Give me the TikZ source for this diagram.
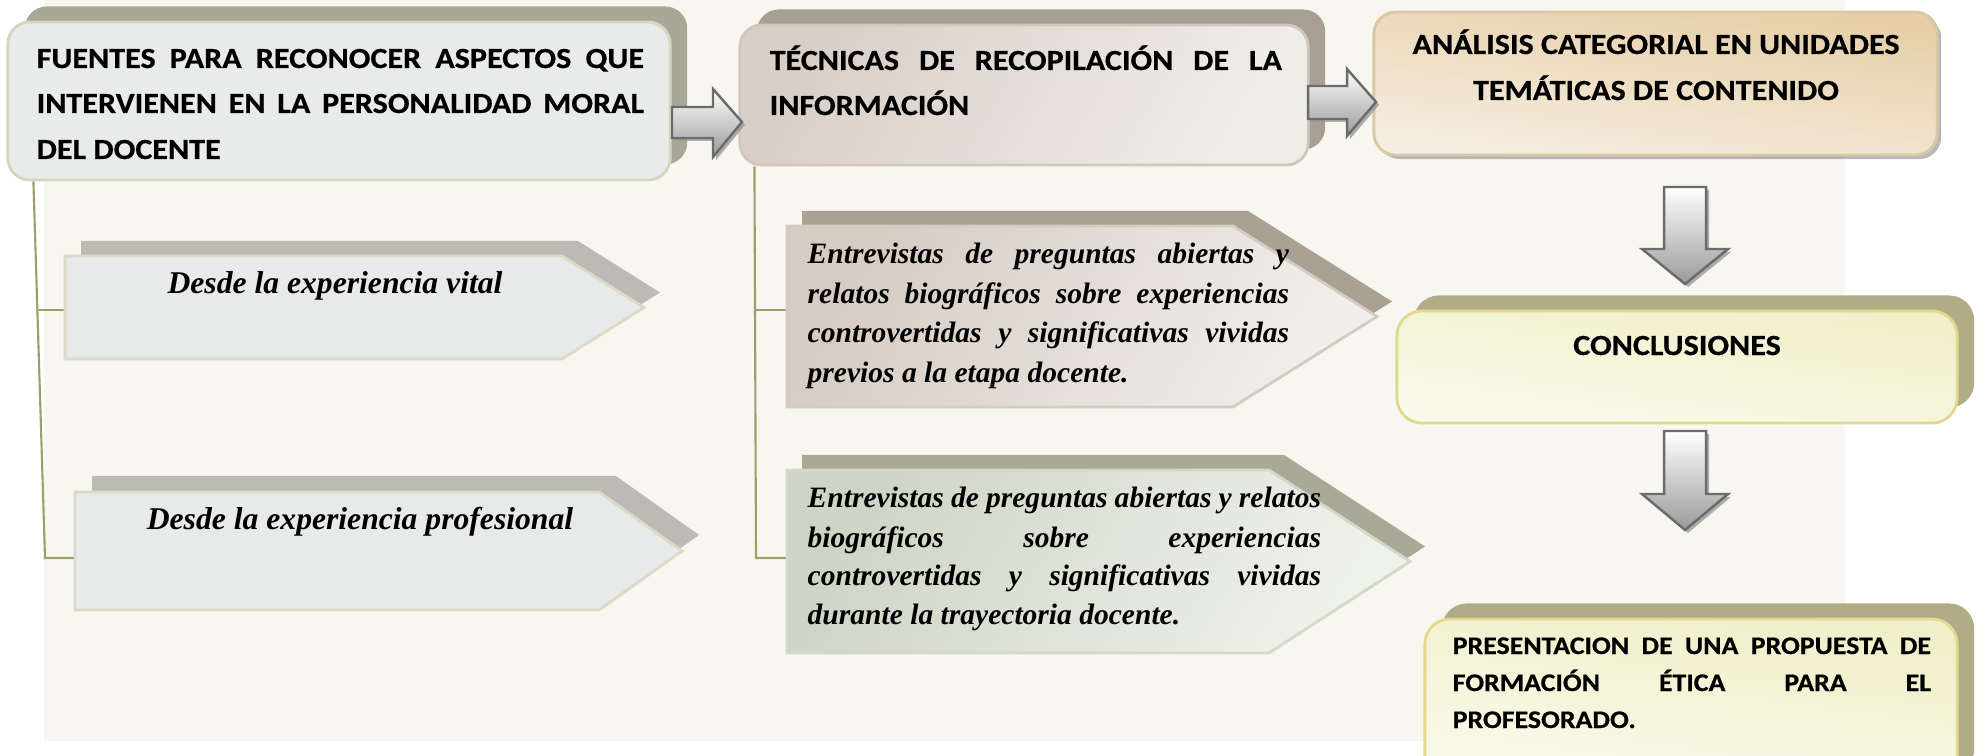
\documentclass[tikz,border=0pt]{standalone}
\usepackage{fontspec}
\setmainfont{Liberation Serif}
\newfontfamily\calw{Carlito}[FakeStretch=1.1,FakeBold=0.6]
\usetikzlibrary{shadows,calc}
\definecolor{cream}{HTML}{F7F7EF}
\definecolor{shA}{HTML}{A8A896}
\definecolor{fillA}{HTML}{E9EAEA}
\definecolor{bordA}{HTML}{D5D5C0}
\definecolor{shB}{HTML}{A79F93}
\definecolor{fillBa}{HTML}{D9CFC7}
\definecolor{fillBb}{HTML}{F0EDE9}
\definecolor{bordB}{HTML}{D2C7BC}
\definecolor{fillCa}{HTML}{E6CEA6}
\definecolor{fillCb}{HTML}{F6EEE2}
\definecolor{bordC}{HTML}{D9C7A6}
\definecolor{shD}{HTML}{B2AC86}
\definecolor{fillDa}{HTML}{EFEFC8}
\definecolor{fillDb}{HTML}{FAFAEC}
\definecolor{bordD}{HTML}{E3D98E}
\definecolor{shF}{HTML}{BBBBB4}
\definecolor{fillF}{HTML}{E8E9E9}
\definecolor{bordF}{HTML}{DADAC6}
\definecolor{shH}{HTML}{A9A193}
\definecolor{fillHa}{HTML}{D6CCC4}
\definecolor{fillHb}{HTML}{F1EFEB}
\definecolor{bordH}{HTML}{D5CBC2}
\definecolor{shI}{HTML}{A8AA97}
\definecolor{fillIa}{HTML}{CFD5C6}
\definecolor{fillIb}{HTML}{EFF1EB}
\definecolor{bordI}{HTML}{D4D8C8}
\definecolor{connc}{HTML}{9E9E6C}
\definecolor{arrb}{HTML}{6B6B6B}
\definecolor{arrg}{HTML}{9A9A9A}
\tikzset{
  boxbase/.style={inner sep=0, line width=0.8pt},
  upshadow/.style={drop shadow={shadow xshift=0.17cm, shadow yshift=0.155cm, fill=#1, opacity=1}},
  sansA/.style={font=\calw\bfseries\fontsize{8.3}{12.8}\selectfont, inner sep=0, anchor=base west},
  sansC/.style={font=\calw\bfseries\fontsize{8.3}{12.8}\selectfont, inner sep=0, anchor=base},
  sansE/.style={font=\calw\bfseries\fontsize{7.2}{10.5}\selectfont, inner sep=0, anchor=base west},
  serF/.style={font=\bfseries\itshape\fontsize{9}{12}\selectfont, inner sep=0, anchor=base},
  serH/.style={font=\bfseries\itshape\fontsize{8.4}{11}\selectfont, inner sep=0, anchor=base west},
  connline/.style={draw=connc, line width=0.6pt},
  blockarrow/.style={draw=arrb, line width=0.7pt, top color=white, bottom color=arrg,
     drop shadow={shadow xshift=0.03cm, shadow yshift=-0.03cm, fill=arrg, opacity=0.8}},
}
\begin{document}
\begin{tikzpicture}[x=0.01cm, y=-0.01cm]
\useasboundingbox (0,0) rectangle (1977,755);
\clip (0,0) rectangle (1977,755);
\fill[white] (0,0) rectangle (1977,755);
\fill[cream] (44,0) rectangle (1845,741);

% connector points
\coordinate (j1) at (38,310);
\coordinate (j2) at (45,558);
\coordinate (Fw) at (65,310);
\coordinate (Gw) at (75,558);
\coordinate (k1) at (756,310);
\coordinate (k2) at (756,558);
\coordinate (Hw) at (787,310);
\coordinate (Iw) at (787,558);

% Box A
\node[boxbase, draw=bordA, fill=fillA, rounded corners=0.22cm, minimum width=6.62cm, minimum height=1.58cm, upshadow=shA] (A) at (339,101) {};
% Box B
\node[boxbase, draw=bordB, left color=fillBa, right color=fillBb, shading angle=60, rounded corners=0.22cm, minimum width=5.68cm, minimum height=1.40cm, upshadow=shB] (B) at (1024,95) {};
% Box C
\node[boxbase, draw=bordC, top color=fillCa, bottom color=fillCb, shading angle=-8, rounded corners=0.22cm, minimum width=5.63cm, minimum height=1.43cm, drop shadow={shadow xshift=0.04cm, shadow yshift=-0.04cm, fill=arrg, opacity=0.7}] (C) at (1655.5,83.5) {};
% Box D
\node[boxbase, draw=bordD, top color=fillDa, bottom color=fillDb, shading angle=-8, rounded corners=0.25cm, minimum width=5.60cm, minimum height=1.12cm, upshadow=shD] (D) at (1677,367) {};
% Box E
\node[boxbase, draw=bordD, top color=fillDa, bottom color=fillDb, shading angle=-8, rounded corners=0.25cm, minimum width=5.32cm, minimum height=1.71cm, upshadow=shD] (E) at (1691,704.5) {};

\draw[connline] ([xshift=0.27cm]A.south west) -- (j2) -- (Gw);
\draw[connline] (j1) -- (Fw);
\draw[connline] ([xshift=0.16cm]B.south west) -- (k2) -- (Iw);
\draw[connline] (k1) -- (Hw);

% Pentagons
\path[draw=bordF, fill=fillF, line width=0.8pt, drop shadow={shadow xshift=0.16cm, shadow yshift=0.15cm, fill=shF, opacity=1}]
  (65,256) -- (562,256) -- (644,307.5) -- (562,359) -- (65,359) -- cycle;
\path[draw=bordF, fill=fillF, line width=0.8pt, drop shadow={shadow xshift=0.17cm, shadow yshift=0.16cm, fill=shF, opacity=1}]
  (75,492) -- (599,492) -- (682,551) -- (599,610) -- (75,610) -- cycle;
\path[draw=bordH, left color=fillHa, right color=fillHb, shading angle=60, line width=0.8pt, drop shadow={shadow xshift=0.15cm, shadow yshift=0.15cm, fill=shH, opacity=1}]
  (787,226) -- (1233,226) -- (1377,316.5) -- (1233,407) -- (787,407) -- cycle;
\path[draw=bordI, left color=fillIa, right color=fillIb, shading angle=60, line width=0.8pt, drop shadow={shadow xshift=0.15cm, shadow yshift=0.15cm, fill=shI, opacity=1}]
  (787,470) -- (1269,470) -- (1410,561.5) -- (1269,653) -- (787,653) -- cycle;

% Block arrows
\path[blockarrow] (672,107) -- (713,107) -- (713,89) -- (742,122) -- (713,157) -- (713,138) -- (672,138) -- cycle;
\path[blockarrow] (1308,86) -- (1347,86) -- (1347,69) -- (1376,102) -- (1347,136) -- (1347,119) -- (1308,119) -- cycle;
\path[blockarrow] (1664,187) -- (1706,187) -- (1706,249) -- (1728,249) -- (1685,284) -- (1642,249) -- (1664,249) -- cycle;
\path[blockarrow] (1664,431) -- (1706,431) -- (1706,494) -- (1728,494) -- (1685,530) -- (1642,494) -- (1664,494) -- cycle;

% Texts
\node[sansA] (ta1) at (36,68) {\makebox[6.07cm][s]{FUENTES PARA RECONOCER ASPECTOS QUE}};
\node[sansA] (ta2) at (36,113) {\makebox[6.07cm][s]{INTERVIENEN EN LA PERSONALIDAD MORAL}};
\node[sansA] (ta3) at (36,159) {DEL DOCENTE};

\node[sansA] (tb1) at (769,70) {\makebox[5.12cm][s]{TÉCNICAS DE RECOPILACIÓN DE LA}};
\node[sansA] (tb2) at (769,115) {INFORMACIÓN};

\node[sansC] (tc1) at (1656,54) {ANÁLISIS CATEGORIAL EN UNIDADES};
\node[sansC] (tc2) at (1656,100) {TEMÁTICAS DE CONTENIDO};

\node[sansC] (td) at (1677,355) {CONCLUSIONES};

\node[sansE] (te1) at (1452,654) {\makebox[4.78cm][s]{PRESENTACION DE UNA PROPUESTA DE}};
\node[sansE] (te2) at (1452,691) {\makebox[4.78cm][s]{FORMACIÓN ÉTICA PARA EL}};
\node[sansE] (te3) at (1452,728) {PROFESORADO.};

\node[serF] (tf) at (335,294) {Desde la experiencia vital};
\node[serF] (tg) at (360,529) {Desde la experiencia profesional};

\node[serH] (th1) at (807,264) {\makebox[4.81cm][s]{Entrevistas de preguntas abiertas y}};
\node[serH] (th2) at (807,304) {\makebox[4.81cm][s]{relatos biográficos sobre experiencias}};
\node[serH] (th3) at (807,343) {\makebox[4.81cm][s]{controvertidas y significativas vividas}};
\node[serH] (th4) at (807,382) {previos a la etapa docente.};

\node[serH] (ti1) at (807,507) {\makebox[5.13cm][s]{Entrevistas de preguntas abiertas y relatos}};
\node[serH] (ti2) at (807,547) {\makebox[5.13cm][s]{biográficos sobre experiencias}};
\node[serH] (ti3) at (807,585) {\makebox[5.13cm][s]{controvertidas y significativas vividas}};
\node[serH] (ti4) at (807,624) {durante la trayectoria docente.};
\end{tikzpicture}
\end{document}
